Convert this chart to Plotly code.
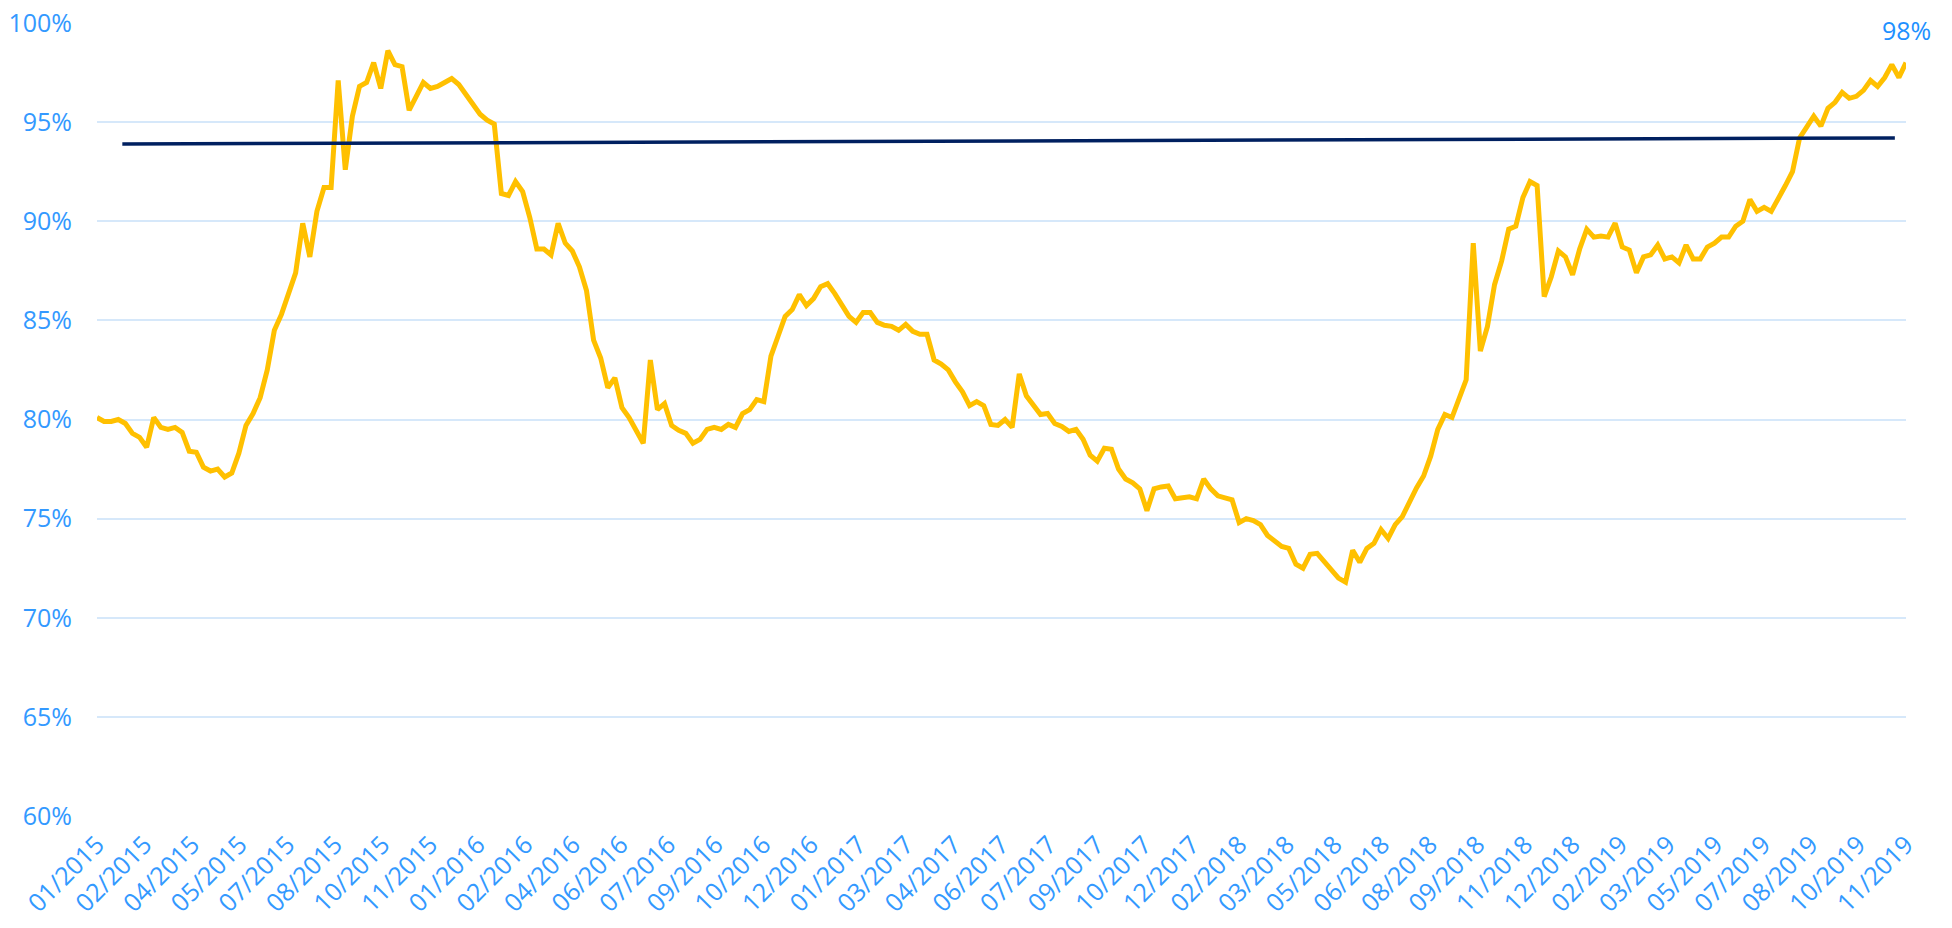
import pandas as pd
import plotly.graph_objects as go

# Weekly readings of the share (%) starting 2015-01-03
start_date = "2015-01-03"
share_values = [
    80.1, 79.9, 79.9, 80.0, 79.8, 79.3, 79.1, 78.6, 80.1, 79.6,
    79.5, 79.6, 79.35, 78.4, 78.35, 77.6, 77.4, 77.5, 77.1, 77.3,
    78.3, 79.7, 80.3, 81.1, 82.5, 84.5, 85.3, 86.3, 87.4, 89.9,
    88.2, 90.5, 91.7, 91.7, 97.1, 92.6, 95.3, 96.8, 97.0, 98.0,
    96.7, 98.6, 97.9, 97.8, 95.6, 96.3, 97.0, 96.7, 96.8, 97.0,
    97.2, 96.9, 96.4, 95.8, 95.4, 95.1, 94.9, 91.4, 91.3, 92.0,
    91.5, 90.2, 88.6, 88.6, 88.3, 89.9, 88.9, 88.5, 87.7, 86.5,
    84.0, 83.1, 81.6, 82.1, 80.6, 80.1, 79.5, 78.8, 83.0, 80.5,
    80.8, 79.7, 79.45, 79.3, 78.8, 79.0, 79.5, 79.6, 79.5, 79.75,
    79.6, 80.3, 80.5, 81.0, 80.9, 83.2, 84.2, 85.2, 85.55, 86.3,
    85.75, 86.1, 86.7, 86.85, 86.35, 85.8, 85.2, 84.9, 85.4, 85.4,
    84.9, 84.75, 84.7, 84.5, 84.8, 84.45, 84.3, 84.3, 83.0, 82.8,
    82.5, 81.9, 81.4, 80.7, 80.9, 80.7, 79.75, 79.7, 80.0, 79.6,
    82.3, 81.2, 80.7, 80.25, 80.3, 79.8, 79.65, 79.4, 79.5, 79.0,
    78.2, 77.9, 78.55, 78.5, 77.5, 77.0, 76.8, 76.5, 75.4, 76.5,
    76.6, 76.65, 76.0, 76.05, 76.1, 76.0, 77.0, 76.5, 76.15, 76.05,
    75.95, 74.8, 75.0, 74.9, 74.7, 74.15, 73.85, 73.6, 73.5, 72.7,
    72.5, 73.2, 73.25, 72.8, 72.4, 72.0, 71.8, 73.4, 72.8, 73.5,
    73.75, 74.45, 74.0, 74.7, 75.1, 75.9, 76.55, 77.15, 78.15, 79.5,
    80.25, 80.1, 81.0, 82.0, 88.9, 83.45, 84.7, 86.8, 88.0, 89.6,
    89.75, 91.2, 92.0, 91.8, 86.2, 87.2, 88.5, 88.2, 87.3, 88.6,
    89.6, 89.2, 89.25, 89.2, 89.9, 88.7, 88.55, 87.4, 88.2, 88.3,
    88.8, 88.1, 88.2, 87.9, 88.8, 88.1, 88.1, 88.7, 88.9, 89.2,
    89.2, 89.75, 90.0, 91.1, 90.5, 90.7, 90.5, 91.1, 91.8, 92.5,
    94.2, 94.75, 95.3, 94.8, 95.7, 96.0, 96.5, 96.2, 96.3, 96.6,
    97.1, 96.8, 97.25, 97.9, 97.25, 98.0,
]

# Target / reference line
target_dates = ["2015-01-28", "2019-11-12"]
target_values = [93.9, 94.2]

tick_labels = [
    "01/2015", "02/2015", "04/2015", "05/2015", "07/2015", "08/2015",
    "10/2015", "11/2015", "01/2016", "02/2016", "04/2016", "06/2016",
    "07/2016", "09/2016", "10/2016", "12/2016", "01/2017", "03/2017",
    "04/2017", "06/2017", "07/2017", "09/2017", "10/2017", "12/2017",
    "02/2018", "03/2018", "05/2018", "06/2018", "08/2018", "09/2018",
    "11/2018", "12/2018", "02/2019", "03/2019", "05/2019", "07/2019",
    "08/2019", "10/2019", "11/2019",
]
y_ticks = [60, 65, 70, 75, 80, 85, 90, 95, 100]

dates = pd.date_range(start_date, periods=len(share_values), freq="7D")
tick_positions = pd.date_range(dates[0], dates[-1], periods=len(tick_labels))

FONT = "Open Sans"
BLUE = "#3399FF"

fig = go.Figure()
fig.add_trace(go.Scatter(
    x=dates, y=share_values, mode="lines",
    line=dict(color="#FFC000", width=5),
    showlegend=False, hoverinfo="x+y",
))
fig.add_trace(go.Scatter(
    x=pd.to_datetime(target_dates), y=target_values, mode="lines",
    line=dict(color="#002060", width=3.5),
    showlegend=False, hoverinfo="x+y",
))

fig.add_annotation(
    x=dates[-1], y=share_values[-1],
    text=f"{round(share_values[-1])}%",
    showarrow=False, yanchor="bottom", xanchor="center", yshift=14,
    font=dict(family=FONT, size=25, color="#1E90FF"),
)

fig.update_layout(
    width=1952, height=928,
    margin=dict(l=97, r=46, t=23, b=112, autoexpand=False),
    paper_bgcolor="white", plot_bgcolor="white",
    font=dict(family=FONT, size=25, color=BLUE),
    xaxis=dict(
        type="date", automargin=False,
        range=[dates[0], dates[-1]],
        tickmode="array", tickvals=tick_positions, ticktext=tick_labels,
        tickangle=-45, showgrid=False, zeroline=False, showline=False,
        ticks="", ticklabelstandoff=8, ticklabeloverflow="allow",
        tickfont=dict(family=FONT, size=25, color=BLUE),
    ),
    yaxis=dict(
        automargin=False,
        range=[60, 100], tickmode="array", tickvals=y_ticks,
        ticktext=[f"{v}%" for v in y_ticks],
        showgrid=True, gridcolor="#D6E8FA", gridwidth=1.5,
        zeroline=False, showline=False, ticks="",
        ticklabelstandoff=24, ticklabeloverflow="allow",
        tickfont=dict(family=FONT, size=25, color=BLUE),
    ),
)

fig.write_html(
    "out.html",
    config={"displayModeBar": False},
    post_script="document.body.style.margin='0';document.body.style.overflow='hidden';",
)
